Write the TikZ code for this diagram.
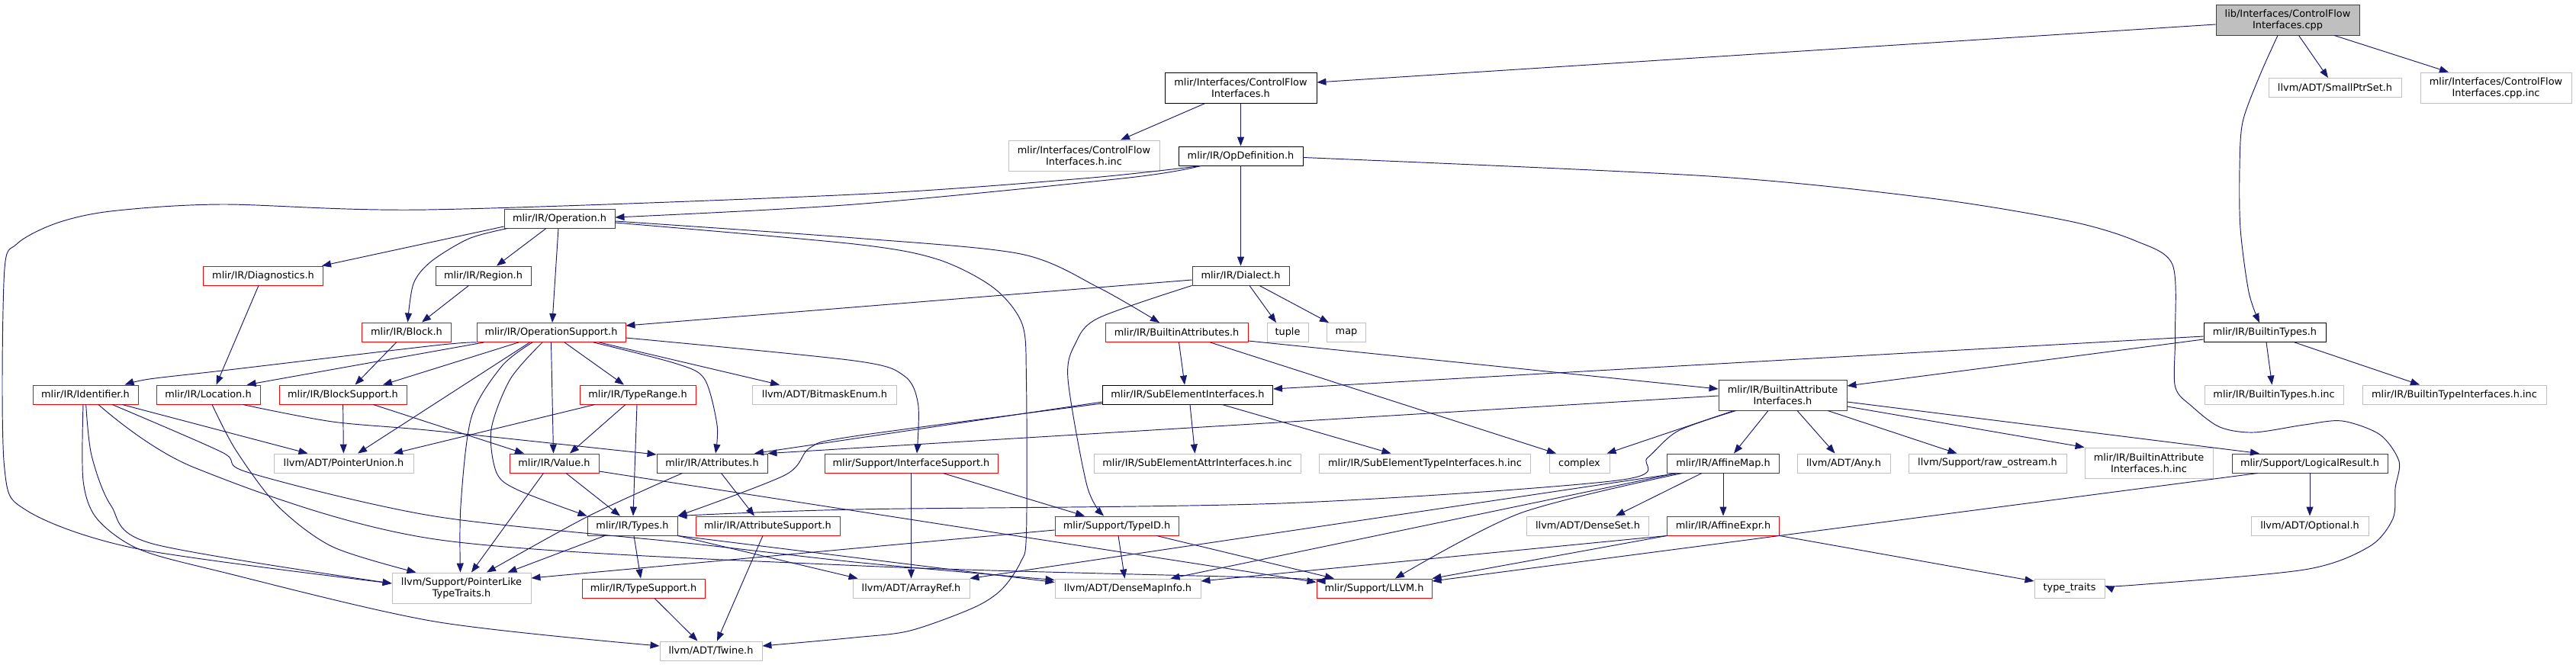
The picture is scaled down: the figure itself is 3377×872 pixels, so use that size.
\documentclass[tikz,border=0pt]{standalone}
\usepackage{fontspec}
\setmainfont{DejaVu Sans}
\usetikzlibrary{arrows.meta}
\definecolor{edgeblue}{HTML}{191970}
\definecolor{boxred}{HTML}{FF0000}
\definecolor{boxgray}{HTML}{BFBFBF}
\definecolor{boxdark}{HTML}{404040}

\begin{document}
\begin{tikzpicture}[x=1pt,y=-1pt,box/.style={draw,line width=0.9pt,minimum height=25,inner sep=0pt,align=center,font=\fontsize{12.9}{15}\selectfont},redbox/.style={box,draw=boxred},graybox/.style={box,draw=boxgray},darkbox/.style={box,draw=boxdark},blackbox/.style={box,draw=black},rootbox/.style={box,draw=boxdark,fill=boxgray},edge/.style={draw=edgeblue,line width=0.95pt,-{Triangle[length=12pt,width=9pt]}}]
 \useasboundingbox (0,0) rectangle (3377,872);
 \node[rootbox,minimum width=188,minimum height=40] (root) at (2999,26) {lib/Interfaces/ControlFlow\\Interfaces.cpp};
 \node[graybox,minimum width=174] (smallptr) at (3061,115) {llvm/ADT/SmallPtrSet.h};
 \node[graybox,minimum width=198,minimum height=40] (cppinc) at (3272,115) {mlir/Interfaces/ControlFlow\\Interfaces.cpp.inc};
 \node[blackbox,minimum width=199,minimum height=40] (cfih) at (1626.5,115) {mlir/Interfaces/ControlFlow\\Interfaces.h};
 \node[graybox,minimum width=198,minimum height=40] (cfinc) at (1421,204) {mlir/Interfaces/ControlFlow\\Interfaces.h.inc};
 \node[blackbox,minimum width=163] (opdef) at (1626.5,204.5) {mlir/IR/OpDefinition.h};
 \node[darkbox,minimum width=145] (operation) at (733.5,286.5) {mlir/IR/Operation.h};
 \node[redbox,minimum width=157] (diag) at (345,361.5) {mlir/IR/Diagnostics.h};
 \node[darkbox,minimum width=125] (region) at (633.5,361.5) {mlir/IR/Region.h};
 \node[darkbox,minimum width=127] (dialect) at (1626.5,361.5) {mlir/IR/Dialect.h};
 \node[redbox,minimum width=117] (block) at (533,435.5) {mlir/IR/Block.h};
 \node[redbox,minimum width=195] (opsup) at (722.5,436) {mlir/IR/OperationSupport.h};
 \node[redbox,minimum width=187] (battr) at (1542.5,436) {mlir/IR/BuiltinAttributes.h};
 \node[graybox,minimum width=54] (tuple) at (1688,436) {tuple};
 \node[graybox,minimum width=51] (map) at (1765,436) {map};
 \node[blackbox,minimum width=160] (btypes) at (2969,436) {mlir/IR/BuiltinTypes.h};
 \node[redbox,minimum width=138] (ident) at (112,517.5) {mlir/IR/Identifier.h};
 \node[redbox,minimum width=136] (loc) at (273,517.5) {mlir/IR/Location.h};
 \node[redbox,minimum width=167] (blksup) at (449.5,517.5) {mlir/IR/BlockSupport.h};
 \node[redbox,minimum width=152] (typerange) at (836,517.5) {mlir/IR/TypeRange.h};
 \node[graybox,minimum width=189] (bitmask) at (1081,517.5) {llvm/ADT/BitmaskEnum.h};
 \node[blackbox,minimum width=223] (subelem) at (1557,517.5) {mlir/IR/SubElementInterfaces.h};
 \node[darkbox,minimum width=168,minimum height=40] (bai) at (2337,518) {mlir/IR/BuiltinAttribute\\Interfaces.h};
 \node[graybox,minimum width=182] (btinc) at (2981,517.5) {mlir/IR/BuiltinTypes.h.inc};
 \node[graybox,minimum width=241] (btiinc) at (3217.5,517.5) {mlir/IR/BuiltinTypeInterfaces.h.inc};
 \node[graybox,minimum width=183] (ptrunion) at (450.5,607.5) {llvm/ADT/PointerUnion.h};
 \node[redbox,minimum width=117] (value) at (726.5,607.5) {mlir/IR/Value.h};
 \node[darkbox,minimum width=145] (attrs) at (933.5,607.5) {mlir/IR/Attributes.h};
 \node[redbox,minimum width=227] (ifsup) at (1194.5,607.5) {mlir/Support/InterfaceSupport.h};
 \node[graybox,minimum width=271] (saiinc) at (1569.5,607.5) {mlir/IR/SubElementAttrInterfaces.h.inc};
 \node[graybox,minimum width=277] (stiinc) at (1868,607.5) {mlir/IR/SubElementTypeInterfaces.h.inc};
 \node[graybox,minimum width=79] (complex) at (2070.5,607.5) {complex};
 \node[darkbox,minimum width=146.5] (affmap) at (2259,607.5) {mlir/IR/AffineMap.h};
 \node[graybox,minimum width=122] (any) at (2417,607.5) {llvm/ADT/Any.h};
 \node[graybox,minimum width=207] (rawos) at (2605.5,607.5) {llvm/Support/raw\_ostream.h};
 \node[graybox,minimum width=168,minimum height=40] (baiinc) at (2817,607) {mlir/IR/BuiltinAttribute\\Interfaces.h.inc};
 \node[darkbox,minimum width=204] (logres) at (3028,607.5) {mlir/Support/LogicalResult.h};
 \node[darkbox,minimum width=118] (types) at (829,689.5) {mlir/IR/Types.h};
 \node[redbox,minimum width=189] (attrsup) at (1006.5,689.5) {mlir/IR/AttributeSupport.h};
 \node[redbox,minimum width=162] (typeid) at (1464,689.5) {mlir/Support/TypeID.h};
 \node[graybox,minimum width=160] (denseset) at (2081.5,689.5) {llvm/ADT/DenseSet.h};
 \node[redbox,minimum width=146.5] (affexpr) at (2259,689.5) {mlir/IR/AffineExpr.h};
 \node[graybox,minimum width=154] (optional) at (3028,689.5) {llvm/ADT/Optional.h};
 \node[graybox,minimum width=182,minimum height=40] (ptrlike) at (605,771) {llvm/Support/PointerLike\\TypeTraits.h};
 \node[redbox,minimum width=161] (typesup) at (843.5,771.5) {mlir/IR/TypeSupport.h};
 \node[graybox,minimum width=153] (arrayref) at (1194.5,771.5) {llvm/ADT/ArrayRef.h};
 \node[graybox,minimum width=191] (dmi) at (1478.5,771.5) {llvm/ADT/DenseMapInfo.h};
 \node[redbox,minimum width=151] (llvm) at (1801.5,771.5) {mlir/Support/LLVM.h};
 \node[graybox,minimum width=92] (typetraits) at (2713,771.5) {type\_traits};
 \node[graybox,minimum width=134] (twine) at (932,853.5) {llvm/ADT/Twine.h};
 \draw[edge] ([yshift=-6]root.west) -- ([yshift=7]cfih.east);
 \draw[edge] ([xshift=14.5]root.south) -- ([xshift=-9]smallptr.north);
 \draw[edge] ([xshift=61]root.south) -- ([xshift=-62]cppinc.north);
 \draw[edge] plot[smooth] coordinates {([xshift=-13]root.south) (2962,100) (2940,160) (2936,220) (2937,300) (2948,383) ([xshift=-7]btypes.north)};
 \draw[edge] ([xshift=-46.5]cfih.south) -- ([xshift=48]cfinc.north);
 \draw[edge] (cfih) -- (opdef);
 \draw[edge] plot[smooth] coordinates {([xshift=-52]opdef.south) (1480,233) (1120,268) ([yshift=1.5]operation.east)};
 \draw[edge] plot[smooth] coordinates {([xshift=-52]opdef.south) (1420,234) (1120,255) (560,275) (291,268) (145,277) (73,293) (22,320) (5.5,360) (5.5,610) (36,670) (182,720) ([yshift=6]ptrlike.west)};
 \draw[edge] (opdef) -- (dialect);
 \draw[edge] plot[smooth] coordinates {([yshift=-2]opdef.east) (2240,231) (2531,260) (2713,290) (2800,316) (2848,347) (2851.5,440) (2851.5,507) (2873.6,533) (2910,560) (2954.6,567) (3021,557) (3070.5,552) (3120,570) (3145,605) (3140,640) (3137,680) (3105.5,717) (3021,747) (2800,767) ([yshift=3.5]typetraits.east)};
 \draw[edge] ([yshift=-10.5]operation.west) -- ([xshift=77]diag.north);
 \draw[edge] plot[smooth] coordinates {([xshift=-68]operation.south) (614.5,313) (565,343) (542,372) ([xshift=1.5]block.north)};
 \draw[edge] ([xshift=-17.5]operation.south) -- ([xshift=17.5]region.north);
 \draw[edge] ([xshift=-1.5]operation.south) -- ([xshift=1.5]opsup.north);
 \draw[edge] plot[smooth] coordinates {([yshift=-3.5]operation.east) (1120,312) (1338,333) (1440,377) ([xshift=-22.5]battr.north)};
 \draw[edge] plot[smooth] coordinates {([yshift=-5.5]operation.east) (1120,320) (1229,340) (1302,377) (1340,425) (1345.5,500) (1345.5,700) (1338,737) (1313,773) (1276,797) (1193,827) (1120,836) ([yshift=6.5]twine.east)};
 \draw[edge] ([xshift=-6]diag.south) -- ([xshift=10.5]loc.north);
 \draw[edge] ([xshift=-19]region.south) -- ([xshift=20]block.north);
 \draw[edge] ([xshift=-13]block.south) -- ([xshift=16]blksup.north);
 \draw[edge] plot[smooth] coordinates {(opsup.south west) (570,453) (300,485) (196,497) ([xshift=51.6]ident.north)};
 \draw[edge] ([xshift=10]opsup.south west) -- ([xshift=50.6]loc.north);
 \draw[edge] ([xshift=-42.5]opsup.south) -- ([xshift=52.5]blksup.north);
 \draw[edge] ([xshift=-28]opsup.south) -- ([xshift=18.5]ptrunion.north);
 \draw[edge] ([xshift=17.5]opsup.south) -- ([xshift=-18]typerange.north);
 \draw[edge] (opsup.south) -- ([xshift=-1]value.north);
 \draw[edge] plot[smooth] coordinates {([xshift=-24.5]opsup.south) (658,480) (618,547) (604,663) ([xshift=-1.5]ptrlike.north)};
 \draw[edge] plot[smooth] coordinates {([xshift=-11.5]opsup.south) (669,497) (644,563) (651,620) (680,643) (types.north west)};
 \draw[edge] plot[smooth] coordinates {([xshift=55.5]opsup.south) (887,477) (923.6,497) (940,557) ([xshift=4.5]attrs.north)};
 \draw[edge] ([xshift=63]opsup.south) -- ([xshift=-59]bitmask.north);
 \draw[edge] plot[smooth] coordinates {([yshift=-7]opsup.east) (1120,473) (1185.5,493) (1203.6,530) ([xshift=7.5]ifsup.north)};
 \draw[edge] ([yshift=-5.5]dialect.west) -- ([yshift=9]opsup.east);
 \draw[edge] plot[smooth] coordinates {(dialect.south west) (1440,417) (1410,450) (1400,497) (1425,637) ([xshift=-17]typeid.north)};
 \draw[edge] ([xshift=11.5]dialect.south) -- ([xshift=-15]tuple.north);
 \draw[edge] ([xshift=24.5]dialect.south) -- ([xshift=-23]map.north);
 \draw[edge] ([xshift=3]battr.south) -- ([xshift=-4]subelem.north);
 \draw[edge] ([yshift=-11]battr.east) -- ([yshift=8]bai.west);
 \draw[edge] ([xshift=44]battr.south) -- ([xshift=-30.5]complex.north);
 \draw[edge] ([yshift=-5]btypes.west) -- ([yshift=7.5]subelem.east);
 \draw[edge] ([yshift=-9]btypes.west) -- ([yshift=12]bai.east);
 \draw[edge] ([xshift=2]btypes.south) -- ([xshift=-2.5]btinc.north);
 \draw[edge] ([xshift=39]btypes.south) -- ([xshift=-45.5]btiinc.north);
 \draw[edge] ([yshift=-9.5]subelem.west) -- ([xshift=55.5]attrs.north);
 \draw[edge] plot[smooth] coordinates {([yshift=-11.5]subelem.west) (1120,572) (1062,587) (1029,623) (types.north east)};
 \draw[edge] ([xshift=3]subelem.south) -- ([xshift=-3]saiinc.north);
 \draw[edge] ([xshift=45]subelem.south) -- ([xshift=-44.5]stiinc.north);
 \draw[edge] ([yshift=-1]bai.west) -- (attrs.north east);
 \draw[edge] plot[smooth] coordinates {([xshift=-61]bai.south) (2200,565) (2160,600) (2120,630) (1680,660) (1120,668) (types.north east)};
 \draw[edge] ([xshift=-64]bai.south) -- ([xshift=36]complex.north);
 \draw[edge] ([xshift=-19]bai.south) -- ([xshift=14]affmap.north);
 \draw[edge] ([xshift=19]bai.south) -- ([xshift=-11.5]any.north);
 \draw[edge] ([xshift=59]bai.south) -- ([xshift=-40]rawos.north);
 \draw[edge] ([yshift=-15]bai.east) -- (baiinc.north west);
 \draw[edge] ([yshift=-9]bai.east) -- ([xshift=-66]logres.north);
 \draw[edge] (affmap) -- (affexpr);
 \draw[edge] ([xshift=-28]affmap.south) -- ([xshift=36.5]denseset.north);
 \draw[edge] plot[smooth] coordinates {([xshift=-53.5]affmap.south) (1992.7,673) ([xshift=27.5]llvm.north)};
 \draw[edge] ([xshift=-59]affmap.south) -- (arrayref.north east);
 \draw[edge] ([xshift=-61]affmap.south) -- ([xshift=56]dmi.north);
 \draw[edge] (affexpr.south west) -- (llvm.north east);
 \draw[edge] (affexpr.south west) -- ([yshift=9.5]dmi.east);
 \draw[edge] (affexpr.south east) -- ([yshift=9.5]typetraits.west);
 \draw[edge] (logres) -- (optional);
 \draw[edge] ([xshift=-68]logres.south) -- ([yshift=9.5]llvm.east);
 \draw[edge] ([yshift=-5.5]typeid.west) -- ([yshift=13]ptrlike.east);
 \draw[edge] ([xshift=2]typeid.south) -- ([xshift=-4]dmi.north);
 \draw[edge] ([xshift=52]typeid.south) -- ([xshift=-52.5]llvm.north);
 \draw[edge] (ifsup) -- (arrayref);
 \draw[edge] ([xshift=41.5]ifsup.south) -- ([xshift=-42]typeid.north);
 \draw[edge] ([xshift=48]ident.south) -- ([xshift=-47]ptrunion.north);
 \draw[edge] plot[smooth] coordinates {([xshift=35]ident.south) (291,593) (327,620) (570,677) (900,712) (1130,738) ([yshift=11]dmi.west)};
 \draw[edge] plot[smooth] coordinates {([xshift=17]ident.south) (254.5,613) (570,707) (1130,742) (1680,758) ([yshift=9.5]llvm.west)};
 \draw[edge] plot[smooth] coordinates {([xshift=0.7]ident.south) (120,597) (145.5,663) (200,713) ([yshift=6]ptrlike.west)};
 \draw[edge] plot[smooth] coordinates {([xshift=-3]ident.south) (109,630) (127,680) (182,720) (291,750) (570,815) ([yshift=6.5]twine.west)};
 \draw[edge] plot[smooth] coordinates {([xshift=45]loc.south) (436,553) (570,565) ([yshift=11.5]attrs.west)};
 \draw[edge] plot[smooth] coordinates {([xshift=5]loc.south) (309,590) (363.6,663) (436,717) ([xshift=-59.5]ptrlike.north)};
 \draw[edge] (blksup) -- (ptrunion);
 \draw[edge] ([xshift=39.5]blksup.south) -- ([xshift=-39.5]value.north);
 \draw[edge] ([xshift=-56]typerange.south) -- ([xshift=65.5]ptrunion.north);
 \draw[edge] ([xshift=-16]typerange.south) -- ([xshift=20.5]value.north);
 \draw[edge] ([xshift=-1]typerange.south) -- ([xshift=1]types.north);
 \draw[edge] ([xshift=15.5]value.south) -- ([xshift=-16]types.north);
 \draw[edge] ([xshift=-14]value.south) -- ([xshift=13]ptrlike.north);
 \draw[edge] ([yshift=-10.5]value.east) -- ([yshift=8]llvm.west);
 \draw[edge] ([xshift=12]attrs.south) -- ([xshift=-17.5]attrsup.north);
 \draw[edge] plot[smooth] coordinates {([xshift=-39]attrs.south) (771,677) ([xshift=33]ptrlike.north)};
 \draw[edge] ([xshift=2]types.south) -- ([xshift=-3.5]typesup.north);
 \draw[edge] ([xshift=-36]types.south) -- ([xshift=60.5]ptrlike.north);
 \draw[edge] (types.south east) -- ([xshift=7]arrayref.north west);
 \draw[edge] (types.south east) -- ([yshift=8]dmi.west);
 \draw[edge] ([xshift=14.5]typesup.south) -- ([xshift=-17.5]twine.north);
 \draw[edge] ([xshift=-6.5]attrsup.south) -- ([xshift=8]twine.north);
\end{tikzpicture}
\end{document}
